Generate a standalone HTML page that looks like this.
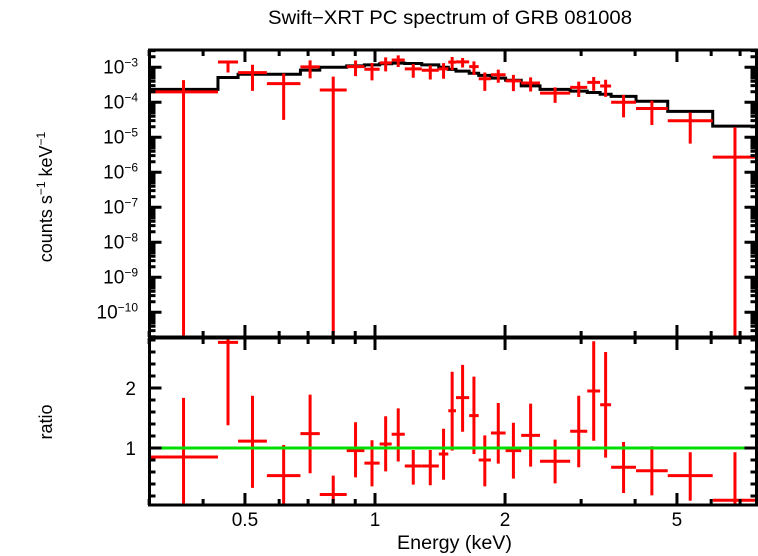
<!DOCTYPE html>
<html><head><meta charset="utf-8"><style>
body{margin:0;background:#fff}
svg{display:block;font-family:"Liberation Sans",Arial,sans-serif}
</style></head><body>
<svg id="c" width="758" height="556" viewBox="0 0 758 556">
<text x="450" y="24" font-size="19" text-anchor="middle" textLength="364" lengthAdjust="spacingAndGlyphs">Swift−XRT PC spectrum of GRB 081008</text>
<text x="0" y="0" font-size="18" text-anchor="middle" transform="translate(52,197) rotate(-90)">counts s<tspan dy="-7" font-size="12">−1</tspan><tspan dy="7"> keV</tspan><tspan dy="-7" font-size="12">−1</tspan></text>
<text x="0" y="0" font-size="18" text-anchor="middle" transform="translate(52,422) rotate(-90)">ratio</text>
<text x="454.5" y="549" font-size="19" text-anchor="middle" textLength="115" lengthAdjust="spacingAndGlyphs">Energy (keV)</text>
<g id="g"></g>
</svg>
<script>
const binEdges=[0.30,0.433,0.482,0.562,0.672,0.745,0.86,0.945,1.025,1.093,1.172,1.283,1.405,1.478,1.54,1.652,1.738,1.855,2.006,2.18,2.41,2.83,3.1,3.32,3.52,4.02,4.76,6.05,7.67];
const modelLog=[-3.63,-3.29,-3.20,-3.20,-3.08,-3.00,-2.96,-2.93,-2.90,-2.88,-2.89,-2.93,-3.00,-3.06,-3.11,-3.17,-3.23,-3.31,-3.37,-3.53,-3.63,-3.68,-3.72,-3.77,-3.83,-3.97,-4.26,-4.68];
const ratio=[0.85,2.76,1.115,0.54,1.24,0.225,0.956,0.747,1.066,1.23,0.70,0.70,0.90,1.62,1.84,1.54,0.80,1.25,0.956,1.21,0.78,1.28,1.95,1.72,0.68,0.62,0.54,0.13];
const ratioHi=[1.835,2.9,1.87,1.05,1.89,0.54,1.43,1.13,1.53,1.66,0.967,0.967,1.32,2.27,2.385,2.19,1.21,1.75,1.42,1.74,1.14,1.87,2.78,2.60,1.10,1.03,0.93,0.93];
const ratioLo=[0,1.38,0.335,0.05,0.58,0,0.51,0.36,0.61,0.775,0.39,0.38,0.47,0.956,1.27,0.90,0.36,0.74,0.49,0.69,0.41,0.68,1.12,0.84,0.25,0.21,0.12,0];
const xTickMajor=[0.5,1,2,5];
const xTickMinor=[0.3,0.4,0.6,0.7,0.8,0.9,3,4,6,7];
const yDecades=[-3,-4,-5,-6,-7,-8,-9,-10];
const ratioTicks=[1,2];

const L=149.5,R=756.5,T1=50,B1=337,T2=338,B2=505;
const X=e=>375+432*Math.log10(e);
const Y1=lg=>67.3+35*(-3-lg);
const Y2=r=>448-60*(r-1);
const g=document.getElementById('g');
const NS='http://www.w3.org/2000/svg';
function el(t,a){const e=document.createElementNS(NS,t);for(const k in a)e.setAttribute(k,a[k]);g.appendChild(e);return e;}
function clampY(y,t,b){return Math.max(t,Math.min(b,y));}

let d='';
modelLog.forEach((m,i)=>{const y=Y1(m);const x0=Math.max(L,X(binEdges[i])),x1=Math.min(R,X(binEdges[i+1]));d+=(i?'L':'M')+x0+' '+y+'L'+x1+' '+y;});
let mp=el('path',{d:d,fill:'none',stroke:'#000','stroke-width':3});



ratio.forEach((r,i)=>{
  const x0=Math.max(L,X(binEdges[i])),x1=Math.min(R,X(binEdges[i+1]));
  const xc=X(Math.sqrt(binEdges[i]*binEdges[i+1]));
  const m=modelLog[i];
  const yc=Y1(m+Math.log10(r));
  const yh=clampY(Y1(m+Math.log10(ratioHi[i])),T1,B1);
  const yl=ratioLo[i]>0?clampY(Y1(m+Math.log10(ratioLo[i])),T1,B1):B1;
  let p=el('path',{d:`M${x0} ${yc}H${x1}M${xc} ${yh}V${yl}`,stroke:'#f00','stroke-width':3,fill:'none'});
  
  
  const rc=clampY(Y2(r),T2,B2),rh=clampY(Y2(ratioHi[i]),T2,B2),rl=clampY(Y2(ratioLo[i]),T2,B2);
  let q=el('path',{d:`M${x0} ${rc}H${x1}M${xc} ${rh}V${rl}`,stroke:'#f00','stroke-width':3,fill:'none'});
  
  
});
let gl=el('line',{x1:L,x2:R,y1:Y2(1),y2:Y2(1),stroke:'#0d0','stroke-width':3});



[[T1,B1],[T2,B2]].forEach(([t,b],k)=>{
  let f=el('rect',{x:L,y:t,width:R-L,height:b-t,fill:'none',stroke:'#000','stroke-width':3});
  
  
  xTickMajor.concat(xTickMinor).forEach(v=>{
    const x=X(v),len=xTickMajor.includes(v)?12:6;
    el('path',{d:`M${x} ${t}v${len}M${x} ${b}v${-len}`,stroke:'#000','stroke-width':3});
  });
});
xTickMajor.forEach(v=>{
  let t=el('text',{x:X(v),y:526,'font-size':19,'text-anchor':'middle'});t.textContent=String(v);
  
  
});
let yd='';
for(let dec=-3;dec>=-11;dec--){
  for(let k=1;k<10;k++){
    const lg=dec+Math.log10(k);const y=Y1(lg);
    if(y<T1||y>B1)continue;
    const len=k==1?12:6;
    yd+=`M${L} ${y}h${len}M${R} ${y}h${-len}`;
  }
}
el('path',{d:yd,stroke:'#000','stroke-width':3});
yDecades.forEach(v=>{
  const t=el('text',{x:138,y:Y1(v)+6,'font-size':19,'text-anchor':'end'});
  t.innerHTML=`10<tspan dy="-7" font-size="12">${v<0?'−'+(-v):v}</tspan>`;
  
  
});
let rd='';
for(let r=0.2;r<2.85;r+=0.2){const y=Y2(r);const major=Math.abs(r-1)<0.01||Math.abs(r-2)<0.01;const len=major?12:6;rd+=`M${L} ${y}h${len}M${R} ${y}h${-len}`;}
el('path',{d:rd,stroke:'#000','stroke-width':3});
ratioTicks.forEach(v=>{
  const t=el('text',{x:136,y:Y2(v)+7,'font-size':19,'text-anchor':'end'});t.textContent=String(v);
  
  
});
</script>
</body></html>
